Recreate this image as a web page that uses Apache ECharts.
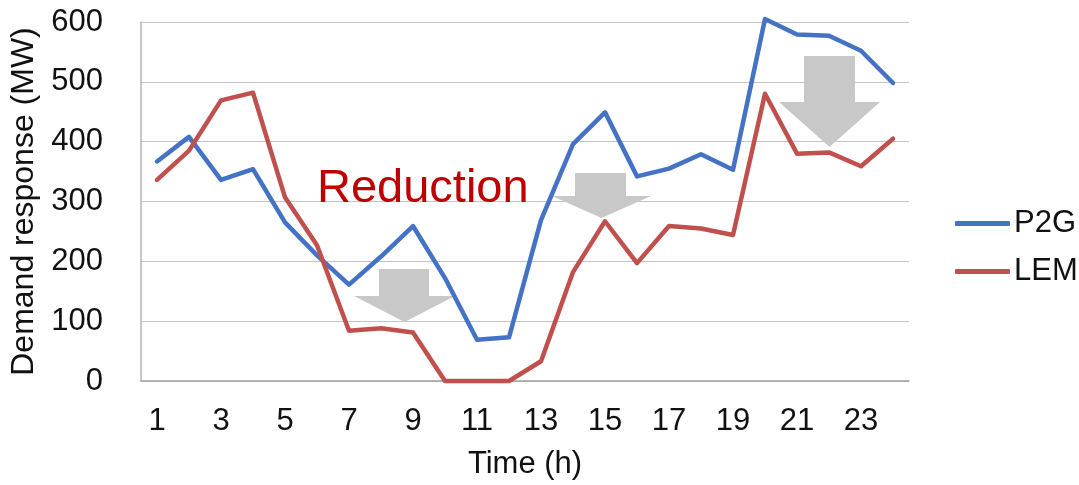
<!DOCTYPE html>
<html>
<head>
<meta charset="utf-8">
<script src="https://cdn.jsdelivr.net/npm/echarts@6/dist/echarts.min.js"></script>
<style>
  html, body { margin: 0; padding: 0; background: #fff; }
  #chart { width: 1079px; height: 485px; }
</style>
</head>
<body>
<div id="chart"></div>
<script>
// Hourly demand response, MW
const hours = ['1','2','3','4','5','6','7','8','9','10','11','12','13','14','15','16','17','18','19','20','21','22','23','24'];
const p2g = [367, 408, 336, 354, 265, 210, 161, 208, 259, 172, 69, 73, 269, 396, 449, 342, 355, 379, 353, 605, 579, 577, 552, 498];
const lem = [336, 385, 469, 482, 307, 227, 84, 88, 81, 0, 0, 0, 33, 182, 267, 197, 259, 255, 244, 480, 380, 382, 359, 405];
const yTicks = [0, 100, 200, 300, 400, 500, 600];

const FONT = '"Liberation Sans", Arial, sans-serif';
const ARROW = '#c8c8c8';

// Down arrow made of a shaft rectangle and a triangular head
function downArrow(x0, x1, top, neck, hx0, hx1, tip) {
  const cx = (hx0 + hx1) / 2;
  return {
    type: 'polygon',
    z: 1,
    shape: { points: [[x0, top], [x1, top], [x1, neck], [hx1, neck], [cx, tip], [hx0, neck], [x0, neck]] },
    style: { fill: ARROW }
  };
}

const chart = echarts.init(document.getElementById('chart'));
chart.setOption({
  animation: false,
  grid: { left: 141, right: 170, top: 22, bottom: 101 },
  textStyle: { fontFamily: FONT },
  legend: {
    orient: 'vertical',
    left: 950,
    top: 203,
    itemWidth: 55,
    itemHeight: 5,
    itemGap: 17,
    icon: 'roundRect',
    textStyle: { fontFamily: FONT, fontSize: 31, color: '#111', padding: [0, 0, 0, -1] },
    data: ['P2G', 'LEM']
  },
  xAxis: {
    type: 'category',
    data: hours,
    boundaryGap: true,
    name: 'Time (h)',
    nameLocation: 'middle',
    nameGap: 68,
    nameTextStyle: { fontFamily: FONT, fontSize: 31, color: '#111' },
    axisLine: { lineStyle: { color: '#a0a0a0', width: 1.5 } },
    axisTick: { show: false },
    axisLabel: { interval: 1, margin: 25, fontFamily: FONT, fontSize: 31, color: '#111' }
  },
  yAxis: {
    type: 'value',
    min: yTicks[0],
    max: yTicks[yTicks.length - 1],
    interval: 100,
    name: 'Demand response (MW)',
    nameLocation: 'middle',
    nameGap: 90,
    nameTextStyle: { fontFamily: FONT, fontSize: 32, color: '#111' },
    axisLine: { show: true, lineStyle: { color: '#b4b4b4', width: 1.5 } },
    axisTick: { show: false },
    axisLabel: { margin: 38, fontFamily: FONT, fontSize: 31, color: '#111' },
    splitLine: { lineStyle: { color: '#c4c4c4', width: 1.2 } }
  },
  series: [
    {
      name: 'P2G',
      type: 'line',
      data: p2g,
      symbol: 'none',
      clip: false,
      z: 3,
      lineStyle: { color: '#4472C4', width: 4.5, cap: 'round', join: 'round' },
      itemStyle: { color: '#4472C4' }
    },
    {
      name: 'LEM',
      type: 'line',
      data: lem,
      symbol: 'none',
      clip: false,
      z: 3,
      lineStyle: { color: '#C0504D', width: 4.5, cap: 'round', join: 'round' },
      itemStyle: { color: '#C0504D' }
    }
  ],
  graphic: [
    downArrow(379, 429, 269, 296, 354, 455, 322),
    downArrow(575, 626, 173, 196, 552, 651, 218),
    downArrow(804, 855, 56, 102, 779, 880, 147),
    {
      type: 'text',
      z: 4,
      x: 317,
      y: 189,
      style: {
        text: 'Reduction',
        fill: '#C00000',
        font: '47px ' + FONT,
        verticalAlign: 'middle',
        align: 'left'
      }
    }
  ]
});
</script>
</body>
</html>
